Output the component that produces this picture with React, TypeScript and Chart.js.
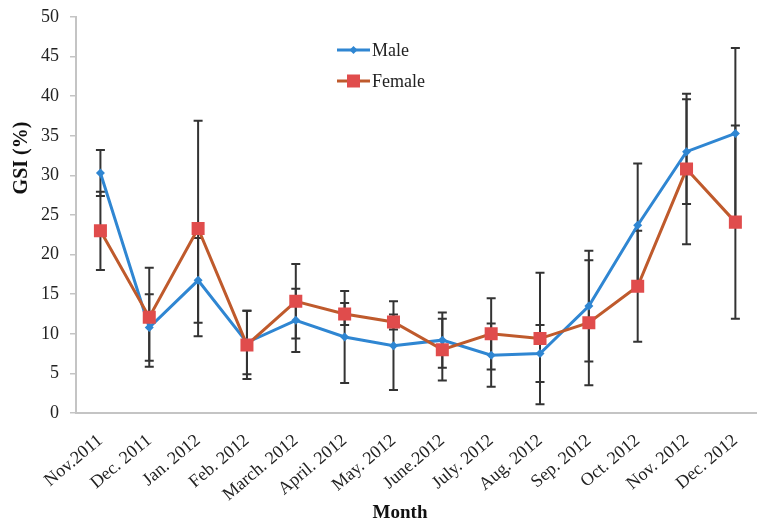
import React, { useEffect, useRef } from "react";
import { Chart, registerables } from "chart.js";

Chart.register(...registerables);

const months = [
  "Nov.2011", "Dec. 2011", "Jan. 2012", "Feb. 2012", "March. 2012", "April. 2012", "May. 2012",
  "June.2012", "July. 2012", "Aug. 2012", "Sep. 2012", "Oct. 2012", "Nov. 2012", "Dec. 2012",
];
const maleGSI = [30.3, 10.8, 16.75, 8.9, 11.7, 9.6, 8.5, 9.2, 7.3, 7.5, 13.5, 23.7, 33.0, 35.3];
const femaleGSI = [23.0, 12.1, 23.3, 8.6, 14.1, 12.5, 11.5, 8.0, 10.0, 9.4, 11.4, 16.0, 30.8, 24.1];
const maleSD = [2.9, 4.2, 5.35, 4.0, 4.0, 5.8, 5.6, 3.5, 4.0, 3.6, 7.0, 7.8, 6.6, 10.8];
const femaleSD = [4.95, 6.25, 13.6, 4.3, 4.7, 1.4, 0.95, 3.9, 4.5, 8.3, 7.9, 7.0, 9.5, 12.2];
const yMin = 0;
const yMax = 50;
const yStep = 5;
const seriesNames = ["Male", "Female"];
const yTitle = "GSI (%)";
const xTitle = "Month";

const SERIF = '"Liberation Serif", "Times New Roman", serif';
const MALE_COLOR = "#2f86d2";
const FEMALE_LINE = "#bf5a2c";
const FEMALE_MARK = "#e04c4c";
const AXIS_COLOR = "#c4c4c4";
const TEXT_COLOR = "#222222";
const ERR_COLOR = "#333333";

export default function App() {
  const ref = useRef<HTMLCanvasElement>(null);

  useEffect(() => {
    if (!ref.current) return;

    const errorBars = {
      id: "errorBars",
      beforeDatasetsDraw(chart: any) {
        const { ctx, scales } = chart;
        const x = scales.x;
        const y = scales.y;
        ctx.save();
        ctx.strokeStyle = ERR_COLOR;
        ctx.lineWidth = 2;
        const draw = (vals: number[], errs: number[]) => {
          vals.forEach((v, i) => {
            const px = x.getPixelForValue(i);
            const top = y.getPixelForValue(v + errs[i]);
            const bot = y.getPixelForValue(v - errs[i]);
            ctx.beginPath();
            ctx.moveTo(px, top);
            ctx.lineTo(px, bot);
            ctx.moveTo(px - 4.5, top);
            ctx.lineTo(px + 4.5, top);
            ctx.moveTo(px - 4.5, bot);
            ctx.lineTo(px + 4.5, bot);
            ctx.stroke();
          });
        };
        draw(maleGSI, maleSD);
        draw(femaleGSI, femaleSD);
        ctx.restore();
      },
    };

    const decorations = {
      id: "decorations",
      afterDraw(chart: any) {
        const { ctx, chartArea } = chart;
        ctx.save();
        // axis titles
        ctx.fillStyle = "#111";
        ctx.font = `bold 19px ${SERIF}`;
        ctx.textAlign = "center";
        ctx.textBaseline = "middle";
        ctx.fillText(xTitle, chartArea.left + 324, chartArea.bottom + 100);
        ctx.translate(22, chartArea.top + 141);
        ctx.rotate(-Math.PI / 2);
        ctx.font = `bold 20px ${SERIF}`;
        ctx.fillText(yTitle, 0, 0);
        ctx.restore();

        // legend
        ctx.save();
        const lx = chartArea.left + 261;
        const rows = [chartArea.top + 33, chartArea.top + 64];
        ctx.lineWidth = 3;
        // male
        ctx.strokeStyle = MALE_COLOR;
        ctx.beginPath();
        ctx.moveTo(lx, rows[0]);
        ctx.lineTo(lx + 33, rows[0]);
        ctx.stroke();
        ctx.fillStyle = MALE_COLOR;
        ctx.beginPath();
        const mx = lx + 16.5;
        ctx.moveTo(mx, rows[0] - 4);
        ctx.lineTo(mx + 4, rows[0]);
        ctx.lineTo(mx, rows[0] + 4);
        ctx.lineTo(mx - 4, rows[0]);
        ctx.closePath();
        ctx.fill();
        // female
        ctx.strokeStyle = FEMALE_LINE;
        ctx.beginPath();
        ctx.moveTo(lx, rows[1]);
        ctx.lineTo(lx + 33, rows[1]);
        ctx.stroke();
        ctx.fillStyle = FEMALE_MARK;
        ctx.fillRect(mx - 6.5, rows[1] - 6.5, 13, 13);
        // labels
        ctx.fillStyle = TEXT_COLOR;
        ctx.font = `18px ${SERIF}`;
        ctx.textAlign = "left";
        ctx.textBaseline = "middle";
        ctx.fillText(seriesNames[0], lx + 35, rows[0] + 1);
        ctx.fillText(seriesNames[1], lx + 35, rows[1] + 1);
        ctx.restore();
      },
    };

    const chart = new Chart(ref.current, {
      type: "line",
      data: {
        labels: months,
        datasets: [
          {
            label: seriesNames[0],
            data: maleGSI,
            borderColor: MALE_COLOR,
            backgroundColor: MALE_COLOR,
            borderWidth: 3,
            pointStyle: "rectRot",
            pointRadius: 4.5,
            pointBorderWidth: 0,
            pointBackgroundColor: MALE_COLOR,
            tension: 0,
            order: 2,
          },
          {
            label: seriesNames[1],
            data: femaleGSI,
            borderColor: FEMALE_LINE,
            backgroundColor: FEMALE_MARK,
            borderWidth: 3,
            pointStyle: "rect",
            pointRadius: 9.2,
            pointBorderWidth: 0,
            pointBackgroundColor: FEMALE_MARK,
            tension: 0,
            order: 1,
          },
        ],
      },
      plugins: [errorBars, decorations],
      options: {
        animation: false,
        responsive: true,
        maintainAspectRatio: false,
        layout: { padding: { top: 17, right: 0, left: 0, bottom: 0 } },
        plugins: {
          legend: { display: false },
          tooltip: { enabled: false },
          title: { display: false },
        },
        scales: {
          x: {
            type: "category",
            offset: true,
            grid: { display: false },
            border: { display: true, color: AXIS_COLOR, width: 2 },
            ticks: {
              autoSkip: false,
              maxRotation: 40,
              minRotation: 40,
              padding: 9,
              color: TEXT_COLOR,
              font: { family: SERIF, size: 18 },
            },
            afterFit: (s: any) => {
              s.height = 109;
              s.paddingLeft = 0;
              s.paddingRight = 0;
            },
          },
          y: {
            min: yMin,
            max: yMax,
            ticks: {
              stepSize: yStep,
              padding: 11,
              color: TEXT_COLOR,
              font: { family: SERIF, size: 18 },
            },
            grid: {
              drawOnChartArea: false,
              drawTicks: true,
              tickLength: 6,
              color: AXIS_COLOR,
              lineWidth: 1.5,
            },
            border: { display: true, color: AXIS_COLOR, width: 2 },
            afterFit: (s: any) => {
              s.width = 76;
              s.paddingTop = 0;
              s.paddingBottom = 0;
            },
          },
        },
      },
    } as any);

    return () => chart.destroy();
  }, []);

  return (
    <div style={{ position: "fixed", left: 0, top: 0, width: 769, height: 522 }}>
      <canvas ref={ref} />
    </div>
  );
}
